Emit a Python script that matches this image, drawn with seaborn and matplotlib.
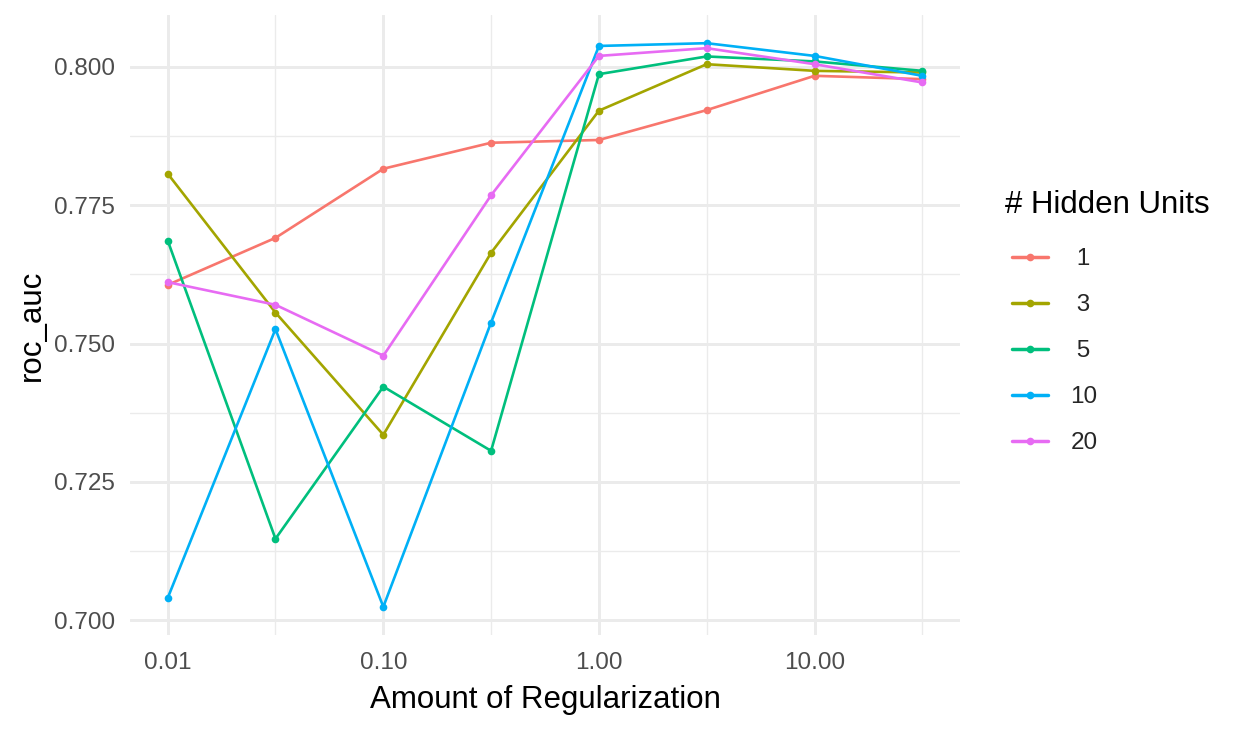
import numpy as np
import pandas as pd
import matplotlib
matplotlib.use("Agg")
import matplotlib.pyplot as plt
from matplotlib.ticker import FixedLocator, NullFormatter
import seaborn as sns

# penalty values (log grid) and roc_auc per number of hidden units
penalty = [0.01, 0.0316, 0.1, 0.316, 1.0, 3.16, 10.0, 31.6]
auc_1 = [0.7606, 0.7691, 0.7816, 0.7863, 0.7868, 0.7922, 0.7984, 0.7978]
auc_3 = [0.7807, 0.7556, 0.7335, 0.7664, 0.7921, 0.8005, 0.7993, 0.7990]
auc_5 = [0.7686, 0.7147, 0.7422, 0.7306, 0.7987, 0.8019, 0.8010, 0.7993]
auc_10 = [0.7040, 0.7526, 0.7024, 0.7538, 0.8038, 0.8043, 0.8020, 0.7984]
auc_20 = [0.7611, 0.7570, 0.7478, 0.7768, 0.8020, 0.8034, 0.8005, 0.7972]
units = ["1", "3", "5", "10", "20"]
x_ticks = [0.01, 0.1, 1, 10]
x_ticklabels = ["0.01", "0.10", "1.00", "10.00"]
y_ticks = [0.700, 0.725, 0.750, 0.775, 0.800]

rows = []
for u, vals in zip(units, [auc_1, auc_3, auc_5, auc_10, auc_20]):
    for p, v in zip(penalty, vals):
        rows.append({"penalty": p, "roc_auc": v, "hidden_units": u})
df = pd.DataFrame(rows)

palette = ["#F8766D", "#A3A500", "#00BF7D", "#00B0F6", "#E76BF3"]

sns.set_style("white")
plt.rcParams["font.family"] = ["Liberation Sans", "DejaVu Sans"]

fig = plt.figure(figsize=(12.48, 7.29), dpi=100)
ax = fig.add_axes([130 / 1248, 1 - 635 / 729, 830 / 1248, 620 / 729])

sns.lineplot(data=df, x="penalty", y="roc_auc", hue="hidden_units",
             hue_order=units, palette=palette, marker="o", markersize=5.5,
             markeredgewidth=0, linewidth=1.9, ax=ax, legend=False)

ax.set_xscale("log")
lo, hi = np.log10(0.01), np.log10(31.6)
pad = (hi - lo) * 0.05
ax.set_xlim(10 ** (lo - pad), 10 ** (hi + pad))
ymin, ymax = df["roc_auc"].min(), df["roc_auc"].max()
ypad = (ymax - ymin) * 0.05
ax.set_ylim(ymin - ypad, ymax + ypad)

ax.xaxis.set_major_locator(FixedLocator(x_ticks))
ax.set_xticklabels(x_ticklabels)
ax.xaxis.set_minor_locator(FixedLocator([0.0316, 0.316, 3.16, 31.6]))
ax.xaxis.set_minor_formatter(NullFormatter())
ax.set_yticks(y_ticks)
ax.set_yticklabels([f"{t:.3f}" for t in y_ticks])
ax.yaxis.set_minor_locator(FixedLocator([0.7125, 0.7375, 0.7625, 0.7875]))

ax.grid(True, which="major", color="#EBEBEB", linewidth=2.1)
ax.grid(True, which="minor", color="#EBEBEB", linewidth=1.0)
ax.set_axisbelow(True)
for s in ax.spines.values():
    s.set_visible(False)
ax.tick_params(which="both", length=0)
ax.tick_params(axis="both", labelsize=17.5, labelcolor="#4D4D4D")
ax.tick_params(axis="x", pad=12.5)
ax.tick_params(axis="y", pad=11)

ax.set_xlabel("Amount of Regularization", fontsize=22.5, color="black", labelpad=7.5)
ax.set_ylabel("roc_auc", fontsize=22.5, color="black", labelpad=4.5)

# legend: keys + centred labels, title placed separately
handles = [plt.Line2D([], [], color=c, marker="o", markersize=5.5,
                      markeredgewidth=0, linewidth=2.5) for c in palette]
labels = [" " + u if len(u) == 1 else u for u in units]
leg = fig.legend(handles, labels, loc="upper left",
                 bbox_to_anchor=(1012 / 1248, 1 - 248 / 729),
                 borderaxespad=0, borderpad=0,
                 frameon=False, fontsize=17.5, labelspacing=0.99,
                 handlelength=1.5, handletextpad=0.9)
fig.text(1005 / 1248, 1 - 213 / 729, "# Hidden Units", fontsize=22.5,
         color="black", ha="left", va="baseline")

fig.savefig("out.png", dpi=100, facecolor="white")
